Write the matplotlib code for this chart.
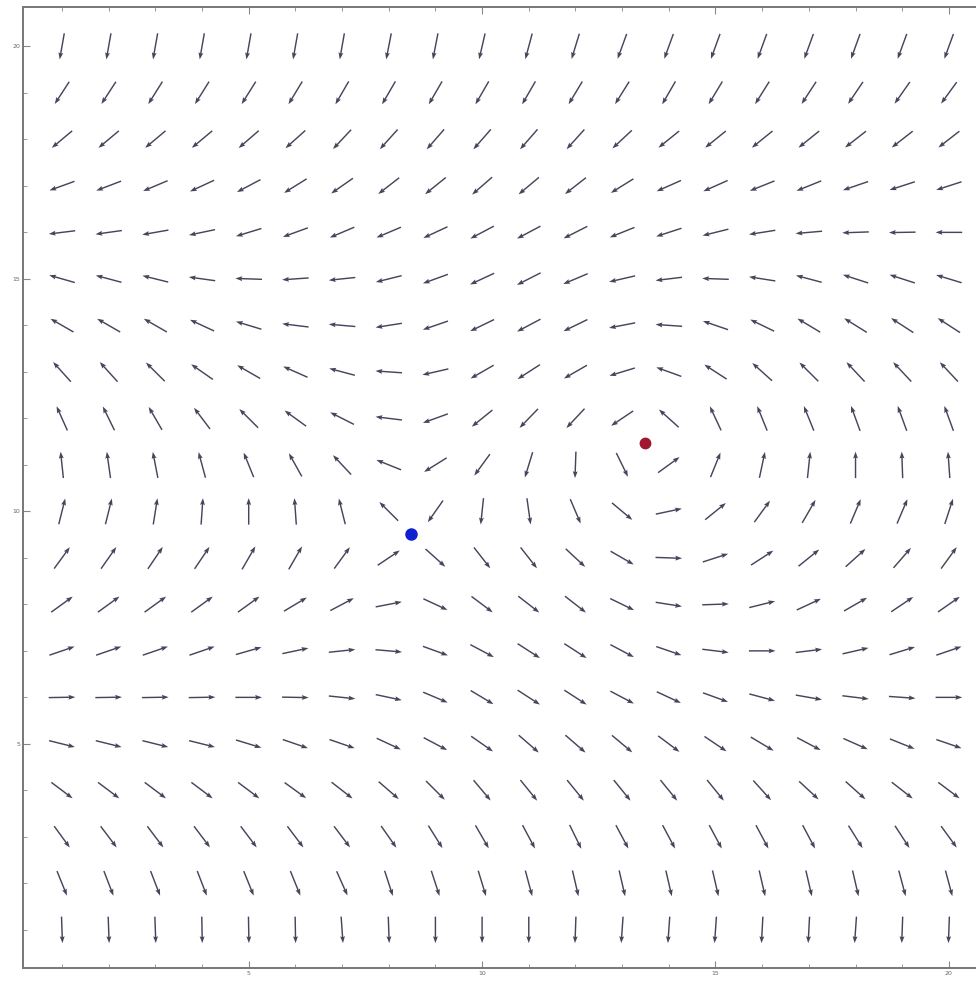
import matplotlib.pyplot as plt
import numpy as np

# grid of sample points (columns left->right, rows top->bottom)
xs = np.arange(1, 21)
ys = np.arange(20, 0, -1)

# direction of the field at each grid point, degrees, one row per y (20 .. 1)
angles = [
    [-100, -100, -100, -100, -100, -100, -100, -101, -101, -103, -105, -107, -110, -110, -110, -110, -110, -110, -110, -110],
    [-123, -123, -122, -122, -122, -121, -120, -120, -120, -120, -120, -121, -122, -120, -121, -122, -123, -124, -125, -126],
    [-140, -140, -140, -140, -139, -138, -133, -132, -131, -131, -131, -132, -137, -141, -141, -141, -141, -142, -142, -142],
    [-160, -159, -157, -155, -152, -148, -145, -142, -141, -139, -140, -142, -148, -156, -156, -158, -158, -161, -162, -162],
    [-173, -172, -170, -168, -163, -160, -157, -157, -155, -152, -152, -153, -158, -162, -166, -171, -175, -178, -179, 180],
    [164, 165, 166, 172, 178, -176, -174, -166, -160, -155, -153, -157, -167, -173, 178, 171, 165, 162, 162, 163],
    [150, 150, 150, 155, 163, 173, 175, -171, -161, -154, -152, -154, -169, 176, 161, 154, 149, 148, 147, 147],
    [132, 132, 135, 145, 150, 156, 165, 176, -167, -150, -147, -150, -163, 160, 147, 138, 135, 133, 133, 133],
    [114, 116, 120, 127, 135, 144, 153, 173, -160, -141, -134, -133, -146, 138, 115, 112, 112, 110, 110, 110],
    [96, 98, 101, 105, 112, 119, 133, 158, -148, -126, -107, -92, -64, 36, 68, 78, 84, 90, 92, 94],
    [76, 76, 81, 86, 90, 94, 104, 135, -125, -96, -82, -67, -40, 12, 39, 54, 60, 67, 67, 72],
    [54, 55, 56, 56, 60, 60, 54, 34, -42, -52, -52, -43, -30, -2, 18, 33, 39, 42, 49, 54],
    [36, 36, 36, 36, 36, 31, 28, 11, -25, -37, -38, -38, -26, -9, 2, 14, 25, 30, 34, 35],
    [19, 19, 19, 19, 16, 12, 6, -5, -20, -28, -33, -33, -28, -19, -7, 0, 7, 13, 17, 19],
    [1, 1, 1, 1, 0, -1, -6, -12, -23, -31, -33, -33, -28, -25, -20, -15, -10, -7, -4, 0],
    [-14, -14, -14, -14, -17, -19, -19, -25, -28, -35, -41, -41, -40, -37, -34, -31, -28, -24, -22, -19],
    [-37, -37, -37, -37, -37, -36, -38, -41, -45, -50, -51, -51, -51, -51, -51, -48, -43, -42, -38, -37],
    [-54, -53, -53, -53, -53, -53, -53, -55, -58, -60, -62, -64, -62, -62, -62, -62, -62, -58, -57, -54],
    [-68, -69, -69, -69, -68, -68, -66, -72, -72, -73, -75, -77, -77, -77, -77, -77, -77, -77, -75, -75],
    [-88, -88, -88, -89, -89, -89, -86, -88, -90, -90, -90, -92, -94, -94, -94, -93, -93, -94, -92, -92],
]

# the two special points
saddle_xy = (8.47, 9.52)
centre_xy = (13.49, 11.47)

arrow_len = 0.57
tick_labels = ['5', '10', '15', '20']

X, Y = np.meshgrid(xs, ys)
th = np.deg2rad(np.array(angles, dtype=float))
U = arrow_len * np.cos(th)
V = arrow_len * np.sin(th)

fig = plt.figure(figsize=(9.76, 9.84), dpi=100)
ax = fig.add_axes([23 / 976, 16 / 984, 957 / 976, 961 / 984])

ax.quiver(X, Y, U, V, angles='xy', scale_units='xy', scale=1, pivot='mid',
          color='#45455c', width=0.0015, headwidth=3.4, headlength=4.8,
          headaxislength=4.2)

ax.plot(*saddle_xy, 'o', color='#1020d0', markersize=8, zorder=5)
ax.plot(*centre_xy, 'o', color='#a01830', markersize=7.5, zorder=5)

ax.set_xlim(0.165, 0.165 + 957 / 46.68)
ax.set_ylim(0.18, 0.18 + 961 / 46.5)

major = [5, 10, 15, 20]
ax.set_xticks(major)
ax.set_yticks(major)
ax.set_xticklabels(tick_labels)
ax.set_yticklabels(tick_labels)
ax.set_xticks(xs, minor=True)
ax.set_yticks(xs, minor=True)
ax.tick_params(which='both', direction='in', top=True, right=False,
               color='#888888', labelsize=4.5, labelcolor='#666666', pad=2)
ax.tick_params(which='major', length=5, width=0.8)
ax.tick_params(which='minor', length=3, width=0.6)

for side in ['left', 'bottom', 'top']:
    ax.spines[side].set_color('#777777')
    ax.spines[side].set_linewidth(1.4)
ax.spines['right'].set_visible(False)

fig.savefig('out.png', dpi=100)
